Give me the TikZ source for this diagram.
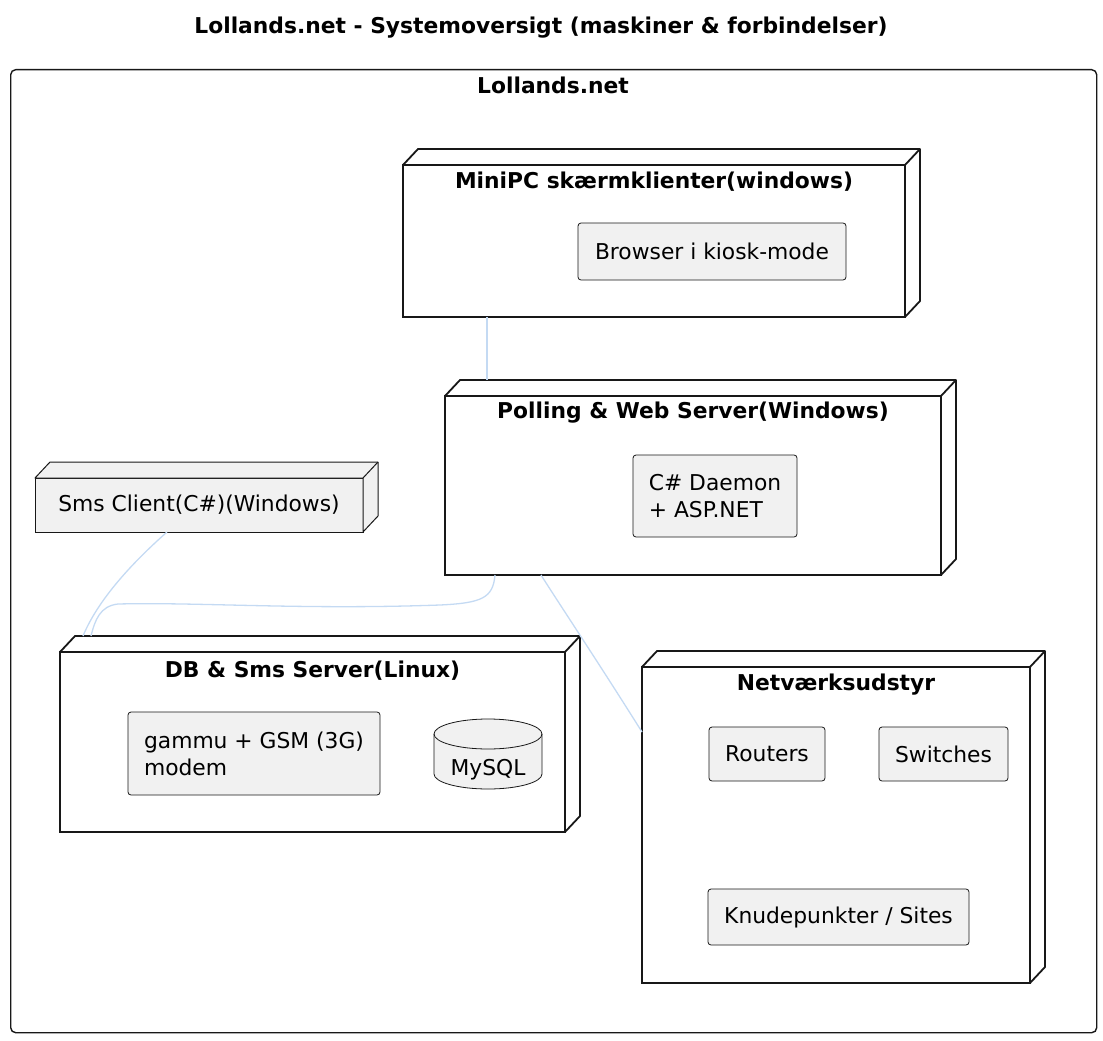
\documentclass[tikz,border=0pt]{standalone}
\usepackage{fontspec}
\setmainfont{DejaVu Sans}
\usetikzlibrary{calc}
\definecolor{boxfill}{HTML}{F1F1F1}
\definecolor{boxline}{HTML}{181818}
\definecolor{conn}{HTML}{C4DAF3}
\newcommand\depthfaces[3]{% name, fill, line width
  \filldraw[fill=#2, draw=boxline, line width=#3, line join=round]
    (#1.north west) -- ++(15,-16) -| ($(#1.south east)+(15,-16)$) -- (#1.south east) -- (#1.north east) -- cycle;
  \draw[boxline, line width=#3] (#1.north east) -- ++(15,-16);
}
\begin{document}
\begin{tikzpicture}[x=1pt,y=-1pt,
  every node/.style={font=\fontsize{21.8}{27}\selectfont, text=black},
  bigbox/.style={draw=boxline, fill=white, line width=1.8, inner sep=0, outer sep=0, anchor=north west},
  smallbox/.style={draw=boxline, fill=boxfill, line width=0.8, rounded corners=3, inner sep=0, outer sep=0, align=left},
  boxtitle/.style={font=\fontsize{21.8}{27}\selectfont\bfseries},
  wire/.style={draw=conn, line width=1.3}
]
\useasboundingbox (0,0) rectangle (1103,1041);

% title
\node[boxtitle] (title) at (541,28) {Lollands.net - Systemoversigt (maskiner \& forbindelser)};

% outer frame
\node[draw=boxline, line width=1.4, rounded corners=5, minimum width=1086, minimum height=963, inner sep=0, anchor=north west] (frame) at (10,69) {};
\node[boxtitle] (frametitle) at (553,85) {Lollands.net};

% MiniPC
\node[bigbox, minimum width=502, minimum height=152] (mini) at (403,165) {};
\depthfaces{mini}{white}{1.8}
\node[boxtitle] (minititle) at (654,182) {MiniPC skærmklienter(windows)};
\node[smallbox, minimum width=268, minimum height=57] (browser) at (712,251.5) {Browser i kiosk-mode};

% Polling & Web
\node[bigbox, minimum width=496, minimum height=179] (poll) at (445,396) {};
\depthfaces{poll}{white}{1.8}
\node[boxtitle] (polltitle) at (693,413) {Polling \& Web Server(Windows)};
\node[smallbox, minimum width=164, minimum height=82] (daemon) at (715,496) {C\# Daemon\\+ ASP.NET};

% Sms Client
\node[bigbox, fill=boxfill, line width=1.0, minimum width=328, minimum height=54] (sms) at (35,478) {};
\depthfaces{sms}{boxfill}{1.0}
\node (smstext) at (199,505) {Sms Client(C\#)(Windows)};

% DB & Sms Server
\node[bigbox, minimum width=505, minimum height=180] (db) at (60,652) {};
\depthfaces{db}{white}{1.8}
\node[boxtitle] (dbtitle) at (312.5,671) {DB \& Sms Server(Linux)};
\node[smallbox, minimum width=252, minimum height=83] (gammu) at (254,753.5) {gammu + GSM (3G)\\modem};
\coordinate (mysql) at (488,754);
\filldraw[fill=boxfill, draw=boxline, line width=0.8]
  (434,734) -- (434,774) arc[start angle=180, end angle=0, x radius=54, y radius=15]
  -- (542,734) arc[start angle=360, end angle=180, x radius=54, y radius=15] -- cycle;
\draw[boxline, line width=0.8] (434,734) arc[start angle=180, end angle=0, x radius=54, y radius=15];
\node (mysqltext) at (488,770) {MySQL};

% Netværksudstyr
\node[bigbox, minimum width=388, minimum height=316] (net) at (642,667) {};
\depthfaces{net}{white}{1.8}
\node[boxtitle] (nettitle) at (836,685) {Netværksudstyr};
\node[smallbox, minimum width=116, minimum height=54] (routers) at (767,754) {Routers};
\node[smallbox, minimum width=129, minimum height=54] (switches) at (943.5,754) {Switches};
\node[smallbox, minimum width=261, minimum height=56] (knude) at (838.5,917) {Knudepunkter / Sites};

% connector end points
\coordinate (miniS) at ($(mini.south west)+(84,0)$);
\coordinate (pollN) at ($(mini.south west)+(84,63)$);
\coordinate (smsS) at ($(sms.south west)+(132,0)$);
\coordinate (dbN1) at ($(db.north west)+(23,-16)$);
\coordinate (dbN2) at ($(db.north west)+(31,-16)$);
\coordinate (pollS1) at ($(poll.south west)+(50,0)$);
\coordinate (pollS2) at ($(poll.south west)+(96,0)$);
\coordinate (netW) at ($(net.north west)+(0,65)$);

% connectors
\draw[wire] (miniS) -- (pollN);
\draw[wire] (smsS) .. controls (140,556) and (100,595) .. (dbN1);
\draw[wire] (pollS1) .. controls (493,598) and (482,603) .. (440,605)
  .. controls (300,610) and (200,602) .. (118,604)
  .. controls (100,606) and (95,620) .. (dbN2);
\draw[wire] (pollS2) .. controls (560,605) and (600,665) .. (netW);
\end{tikzpicture}
\end{document}
